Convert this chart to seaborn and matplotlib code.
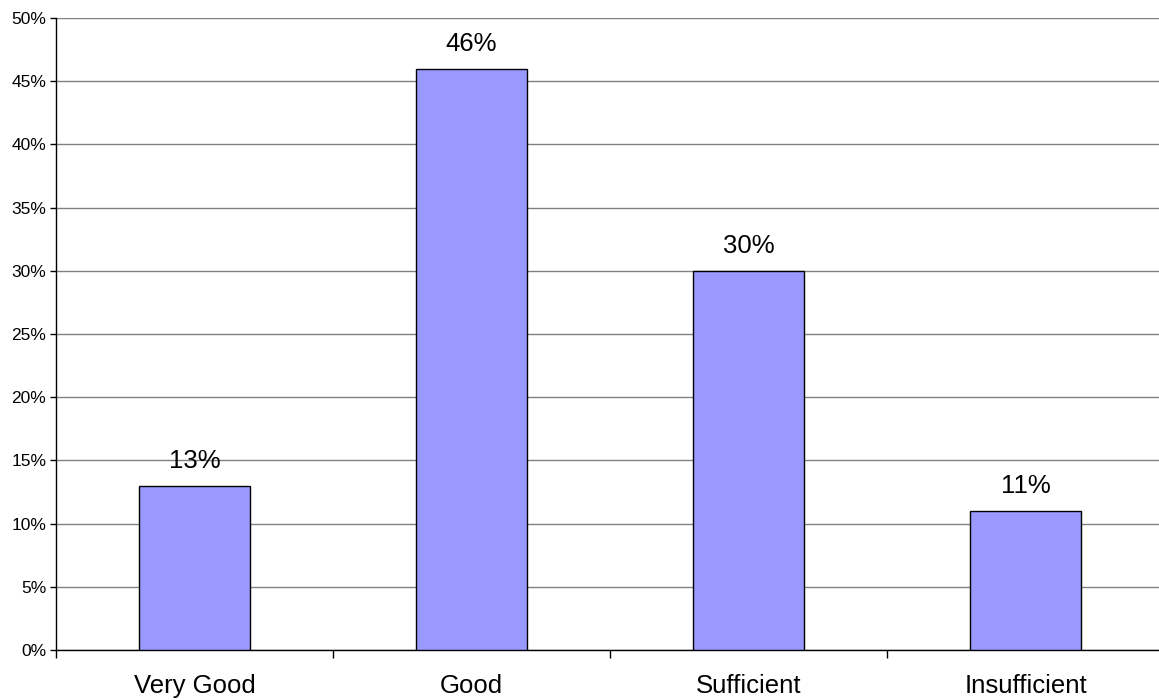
import matplotlib
matplotlib.use("Agg")
import matplotlib.pyplot as plt
import seaborn as sns
import pandas as pd
from matplotlib.ticker import FixedLocator, PercentFormatter

categories = ["Very Good", "Good", "Sufficient", "Insufficient"]
shares = [13, 46, 30, 11]
y_ticks = [0, 5, 10, 15, 20, 25, 30, 35, 40, 45, 50]

sns.set_style("white")
plt.rcParams["font.family"] = ["Liberation Sans", "DejaVu Sans"]
plt.rcParams["text.color"] = "black"
plt.rcParams["xtick.color"] = "black"
plt.rcParams["ytick.color"] = "black"

df = pd.DataFrame({"category": categories, "share": shares})

W, H = 1159, 700
fig = plt.figure(figsize=(W / 100, H / 100), dpi=100)
ax = fig.add_axes([56 / W, 50 / H, 1108 / W, 632 / H])

sns.barplot(data=df, x="category", y="share", color="#9999FF", width=0.4,
            edgecolor="black", linewidth=1, saturation=1, ax=ax, zorder=3)

ax.set_xlim(-0.5, len(categories) - 0.5)
ax.set_ylim(0, 50)
ax.set_yticks(y_ticks)
ax.yaxis.set_major_formatter(PercentFormatter(decimals=0))
ax.yaxis.grid(True, color="#808080", linewidth=1)
ax.set_axisbelow(True)

ax.set_xlabel("")
ax.set_ylabel("")
ax.tick_params(axis="x", which="major", length=0, pad=17, labelsize=18.5, labelcolor="black")
ax.xaxis.set_minor_locator(FixedLocator([i - 0.5 for i in range(len(categories))]))
ax.tick_params(axis="x", which="minor", length=6, width=1, color="black", direction="out")
ax.tick_params(axis="y", length=4, width=1, color="black", direction="out",
               labelsize=12.5, pad=3, labelcolor="black")
ax.tick_params(bottom=True, left=True, which="both")

for side in ["top", "right"]:
    ax.spines[side].set_visible(False)
for side in ["left", "bottom"]:
    ax.spines[side].set_color("black")
    ax.spines[side].set_linewidth(1)

for cont in ax.containers:
    ax.bar_label(cont, labels=[f"{v}%" for v in shares], padding=9,
                 fontsize=18.5, color="black")

fig.savefig("out.png", dpi=100)
